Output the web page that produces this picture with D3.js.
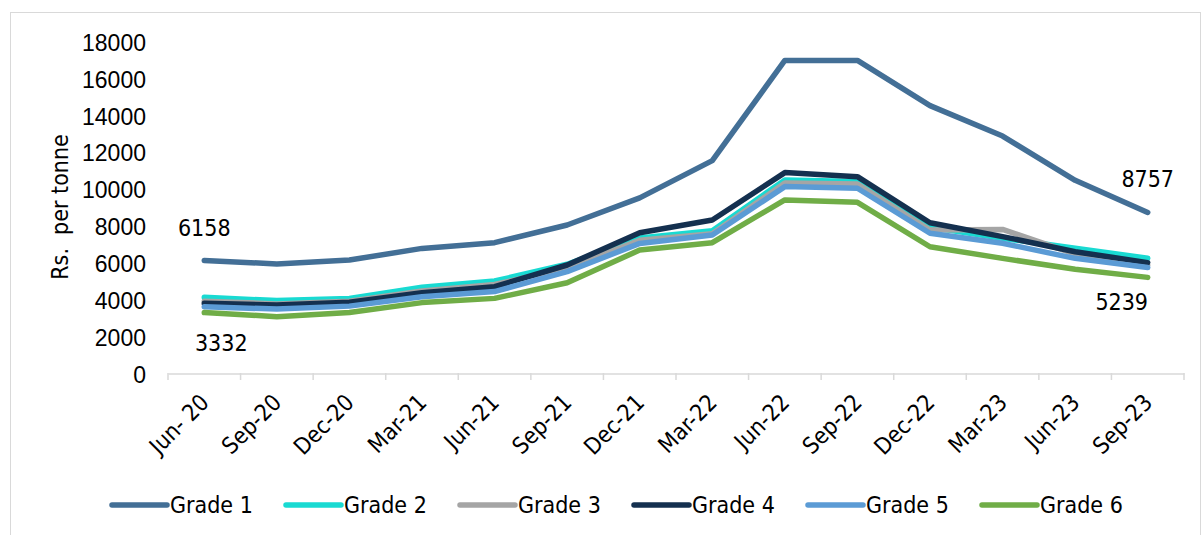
<!DOCTYPE html>
<html><head><meta charset="utf-8">
<script src="https://cdn.jsdelivr.net/npm/d3@7"></script>
<style>
body{margin:0;background:#fff;}
svg{display:block;font-family:"DejaVu Sans Condensed","DejaVu Sans",sans-serif;font-stretch:condensed;}
</style></head>
<body><svg id="c" width="1203" height="535"></svg>
<script>
const categories = ["Jun- 20","Sep-20","Dec-20","Mar-21","Jun-21","Sep-21","Dec-21","Mar-22","Jun-22","Sep-22","Dec-22","Mar-23","Jun-23","Sep-23"];
const grade1 = [6158,5970,6180,6810,7120,8080,9550,11570,17000,17000,14550,12900,10500,8757];
const grade2 = [4160,3980,4100,4700,5040,5950,7380,7770,10520,10430,7950,7360,6820,6275];
const grade3 = [3950,3800,3950,4500,4850,5750,7250,7600,10350,10300,7810,7840,6500,5900];
const grade4 = [3830,3740,3890,4410,4730,5910,7660,8350,10920,10700,8200,7450,6630,6040];
const grade5 = [3650,3520,3680,4190,4470,5550,7080,7540,10160,10070,7630,7090,6270,5770];
const grade6 = [3332,3110,3330,3870,4100,4950,6720,7120,9440,9310,6900,6270,5680,5239];
const seriesNames = ["Grade 1","Grade 2","Grade 3","Grade 4","Grade 5","Grade 6"];
const yTicks = [0,2000,4000,6000,8000,10000,12000,14000,16000,18000];
const colors = ["#436f96","#19dad2","#a5a5a5","#14304f","#5b9bd5","#70ad47"];

const seriesValues = [grade1,grade2,grade3,grade4,grade5,grade6];
const svg = d3.select("#c");
const FS = 23;

// border
svg.append("rect").attr("x",10.5).attr("y",12.5).attr("width",1190).attr("height",540)
  .attr("fill","none").attr("stroke","#d9d9d9").attr("stroke-width",1);

const x = d3.scaleBand().domain(categories).range([168,1184]);
const y = d3.scaleLinear().domain([0,18000]).range([374,42]);
const cx = c => x(c) + x.bandwidth()/2;

// y tick labels
const ya = svg.append("g").attr("transform","translate(146,0)")
  .call(d3.axisLeft(y).tickValues(yTicks).tickSize(0).tickPadding(0).tickFormat(d3.format("d")));
ya.select(".domain").remove();
ya.selectAll("text").attr("font-size",FS).attr("font-family",null).attr("fill","#000").attr("dy","0.36em");

// x axis
const xa = svg.append("g").attr("transform","translate(0,373.5)")
  .call(d3.axisBottom(x).tickSize(0).tickFormat(""));
xa.select(".domain").attr("stroke","#d9d9d9").attr("stroke-width",1.5);
const bounds = d3.range(categories.length+1).map(i => 168 + i*x.bandwidth());
svg.append("g").selectAll("line").data(bounds).join("line")
  .attr("x1",d=>d).attr("x2",d=>d).attr("y1",373).attr("y2",380)
  .attr("stroke","#d9d9d9").attr("stroke-width",1.5);
svg.append("g").selectAll("text").data(categories).join("text")
  .attr("transform",d=>`translate(${cx(d)+6},${404}) rotate(-45)`)
  .attr("text-anchor","end").attr("font-size",FS).attr("fill","#000").text(d=>d);

// y label
svg.append("text").attr("transform","translate(68,207) rotate(-90)")
  .attr("text-anchor","middle").attr("font-size",FS).attr("fill","#000")
  .style("white-space","pre").attr("xml:space","preserve").text("Rs.  per tonne");

// lines
const line = d3.line().x((d,i)=>cx(categories[i])).y(d=>y(d));
seriesValues.forEach((vals,k)=>{
  svg.append("path").datum(vals).attr("d",line).attr("fill","none")
    .attr("stroke",colors[k]).attr("stroke-width",5.5)
    .attr("stroke-linejoin","round").attr("stroke-linecap","round");
});

// data labels
const labels = [
  {v:grade1[0], i:0, dx:0, dy:-24},
  {v:grade6[0], i:0, dx:17, dy:38},
  {v:grade1[13], i:13, dx:0, dy:-25},
  {v:grade6[13], i:13, dx:-26, dy:33}
];
svg.append("g").selectAll("text").data(labels).join("text")
  .attr("x",d=>cx(categories[d.i])+d.dx).attr("y",d=>y(d.v)+d.dy)
  .attr("text-anchor","middle").attr("font-size",FS).attr("fill","#000").text(d=>d.v);

// legend
const lg = svg.append("g").selectAll("g").data(seriesNames).join("g")
  .attr("transform",(d,i)=>`translate(${112 + i*174},505)`);
lg.append("line").attr("x1",0).attr("x2",55).attr("y1",0).attr("y2",0)
  .attr("stroke",(d,i)=>colors[i]).attr("stroke-width",5.5).attr("stroke-linecap","round");
lg.append("text").attr("x",58).attr("y",0).attr("dy","0.36em").attr("font-size",FS)
  .attr("fill","#000").text(d=>d);
</script></body></html>
